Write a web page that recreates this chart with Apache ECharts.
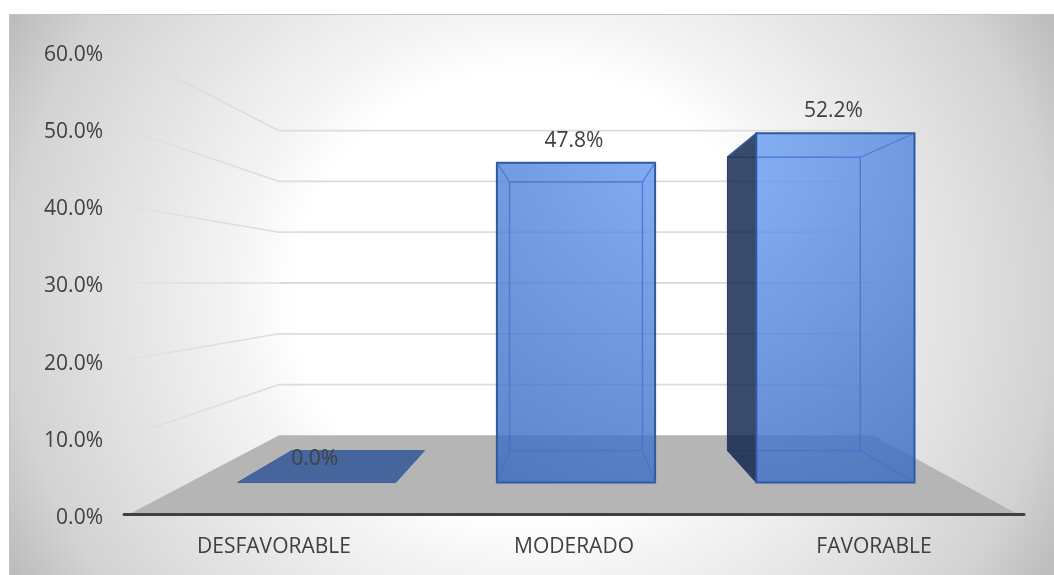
<!DOCTYPE html>
<html>
<head>
<meta charset="utf-8">
<script src="https://cdn.jsdelivr.net/npm/echarts@6/dist/echarts.min.js"></script>
<style>html,body{margin:0;padding:0;background:#fff}#c{width:1054px;height:575px}</style>
</head>
<body>
<div id="c"></div>
<script>
const categories = ['DESFAVORABLE', 'MODERADO', 'FAVORABLE'];
const values = [0.0, 47.8, 52.2];
const tickValues = [0, 10, 20, 30, 40, 50, 60];

// perspective camera of the 3D look: depth scale of each plane (front plane = 1)
const S_BAR_FRONT = 0.862, S_BAR_BACK = 0.724, S_WALL = 0.658;
const VANISH_DX = 2, X_STRETCH = 1.003, BAR_HALF = 0.305, BAR_RISE = 1.006;
const FLOOR_TRIM_L = 4, FLOOR_TRIM_R = 9;
const FONT = '21px "Open Sans"';
const TEXT = '#404040';

function camera(api) {
  const mid = api.coord([1, 30]);
  const vx = mid[0] + VANISH_DX, vy = mid[1];
  return {
    vx, vy,
    p(x, y, s) {
      const fx = vx + (x - mid[0]) * X_STRETCH;
      return [vx + (fx - vx) * s, vy + (y - vy) * s];
    }
  };
}

function renderScene(params, api) {
  const cam = camera(api);
  const v = api.value(0);
  const y = api.coord([0, v])[1];
  const cs = params.coordSys;
  const l = cs.x, r = cs.x + cs.width;
  const kids = [];
  if (v === 0) {
    const fl = cam.p(l, y, 1), fr = cam.p(r, y, 1);
    kids.push({
      type: 'polygon',
      shape: { points: [cam.p(l, y, S_WALL), cam.p(r, y, S_WALL), [fr[0] - FLOOR_TRIM_R, fr[1]], [fl[0] + FLOOR_TRIM_L, fl[1]]] },
      style: { fill: '#b5b5b5' }
    });
  } else {
    const a = cam.p(l, y, 1), b = cam.p(l, y, S_WALL), c = cam.p(r, y, S_WALL);
    kids.push({
      type: 'line',
      shape: { x1: a[0], y1: a[1], x2: b[0], y2: b[1] },
      style: {
        lineWidth: 1.6,
        stroke: new echarts.graphic.LinearGradient(a[0], a[1], b[0], b[1], [
          { offset: 0, color: 'rgba(220,220,220,0.25)' },
          { offset: 0.3, color: 'rgba(220,220,220,0.8)' },
          { offset: 1, color: 'rgba(220,220,220,1)' }
        ], true)
      }
    });
    kids.push({
      type: 'line',
      shape: { x1: b[0], y1: b[1], x2: c[0], y2: c[1] },
      style: { lineWidth: 1.8, stroke: '#dcdcdc' }
    });
  }
  return { type: 'group', children: kids };
}

function renderBar(params, api) {
  const cam = camera(api);
  const i = api.value(0), v = api.value(1);
  const cx = api.coord([i, 0])[0];
  const half = api.size([1, 0])[0] * BAR_HALF;
  const y0 = api.coord([i, 0])[1];
  const y1 = y0 - (y0 - api.coord([i, v])[1]) * BAR_RISE;
  const L = cx - half, R = cx + half;
  const P = (x, y, s) => cam.p(x, y, s);
  const fbl = P(L, y0, S_BAR_FRONT), fbr = P(R, y0, S_BAR_FRONT), ftl = P(L, y1, S_BAR_FRONT), ftr = P(R, y1, S_BAR_FRONT);
  const bbl = P(L, y0, S_BAR_BACK), bbr = P(R, y0, S_BAR_BACK), btl = P(L, y1, S_BAR_BACK), btr = P(R, y1, S_BAR_BACK);
  const poly = (points, fill, stroke, w) => ({ type: 'polygon', shape: { points }, style: { fill, stroke: stroke || 'none', lineWidth: w || 0 } });
  const line = (a, b, stroke, w) => ({ type: 'line', shape: { x1: a[0], y1: a[1], x2: b[0], y2: b[1] }, style: { stroke, lineWidth: w } });
  const kids = [];
  const edge = '#2f5a9f';
  if (v === 0) {
    kids.push(poly([btl, btr, ftr, ftl], '#46659c', '#3f62a3', 1));
  } else {
    const leftOutside = bbl[0] < fbl[0];
    if (leftOutside) {
      kids.push(poly([btl, ftl, fbl, bbl], 'rgba(12,32,73,0.81)'));
      kids.push(line(btl, bbl, '#233a66', 1));
      kids.push(line(btl, ftl, edge, 1.6));
      kids.push(line(bbl, fbl, '#233a66', 1));
      kids.push(line(btl, [ftl[0], btl[1]], '#1f3864', 1.2));
      kids.push(line(bbl, [ftl[0], bbl[1]], '#1f3864', 1.2));
    }
    kids.push({
      type: 'polygon',
      shape: { points: [ftl, ftr, fbr, fbl] },
      style: {
        fill: new echarts.graphic.RadialGradient(720, 120, 420, [
          { offset: 0, color: 'rgba(110,162,248,0.81)' },
          { offset: 1, color: 'rgba(58,105,192,0.81)' }
        ], true),
        stroke: edge, lineWidth: 2
      }
    });
    const inner = 'rgba(62,112,205,0.75)';
    const startX = leftOutside ? ftl[0] : btl[0];
    kids.push(line([startX, btl[1]], btr, inner, 1.4), line(btr, bbr, inner, 1.4), line(bbr, [startX, bbl[1]], inner, 1.4));
    if (!leftOutside) {
      kids.push(line(bbl, btl, inner, 1.4), line(ftl, btl, inner, 1.2), line(fbl, bbl, inner, 1.2));
    }
    kids.push(line(ftr, btr, inner, 1.2), line(fbr, bbr, inner, 1.2));
  }
  kids.push({
    type: 'text',
    z2: 100,
    style: {
      text: v.toFixed(1) + '%',
      x: (ftl[0] + ftr[0]) / 2 - 2, y: ftl[1] - (v === 0 ? 24 : 22),
      align: 'center', verticalAlign: 'middle',
      font: FONT, fill: TEXT
    }
  });
  return { type: 'group', children: kids };
}

const chart = echarts.init(document.getElementById('c'), null, { renderer: 'canvas' });
chart.setOption({
  animation: false,
  backgroundColor: '#fff',
  graphic: [{
    type: 'rect',
    z: -10,
    x: 9, y: 14,
    scaleX: 1.059,
    shape: { x: 0, y: 0, width: 987, height: 561 },
    style: {
      fill: new echarts.graphic.RadialGradient(0.5, 0.5, 1.0, [
        { offset: 0, color: '#ffffff' },
        { offset: 0.4, color: '#ffffff' },
        { offset: 0.5, color: '#f4f4f4' },
        { offset: 0.88, color: '#d3d3d3' },
        { offset: 1, color: '#bdbdbd' }
      ])
    }
  }, {
    type: 'polyline',
    z: -9,
    shape: { points: [[9.5, 575], [9.5, 14.5], [1054, 14.5]] },
    style: { fill: 'none', stroke: '#c4c4c4', lineWidth: 1 }
  }],
  grid: { left: 124, width: 900, top: 51.5, height: 463, containLabel: false },
  xAxis: {
    type: 'category',
    data: categories,
    z: 10,
    axisLine: { lineStyle: { color: '#404040', width: 3, cap: 'round' } },
    axisTick: { show: false },
    axisLabel: { color: TEXT, fontFamily: 'Open Sans', fontSize: 21, margin: 22 }
  },
  yAxis: {
    type: 'value',
    min: 0, max: 60, interval: 10,
    axisLine: { show: false },
    axisTick: { show: false },
    splitLine: { show: false },
    axisLabel: { color: TEXT, fontFamily: 'Open Sans', fontSize: 21, margin: 21, verticalAlign: 'top', lineHeight: 7, formatter: v => v.toFixed(1) + '%' }
  },
  series: [{
    type: 'custom',
    name: 'scene',
    silent: true,
    clip: false,
    z: 1,
    renderItem: renderScene,
    encode: { y: 0 },
    data: tickValues.map(v => [v])
  }, {
    type: 'custom',
    name: 'bars',
    clip: false,
    z: 3,
    renderItem: renderBar,
    encode: { x: 0, y: 1 },
    data: values.map((v, i) => [i, v])
  }]
});
</script>
</body>
</html>
